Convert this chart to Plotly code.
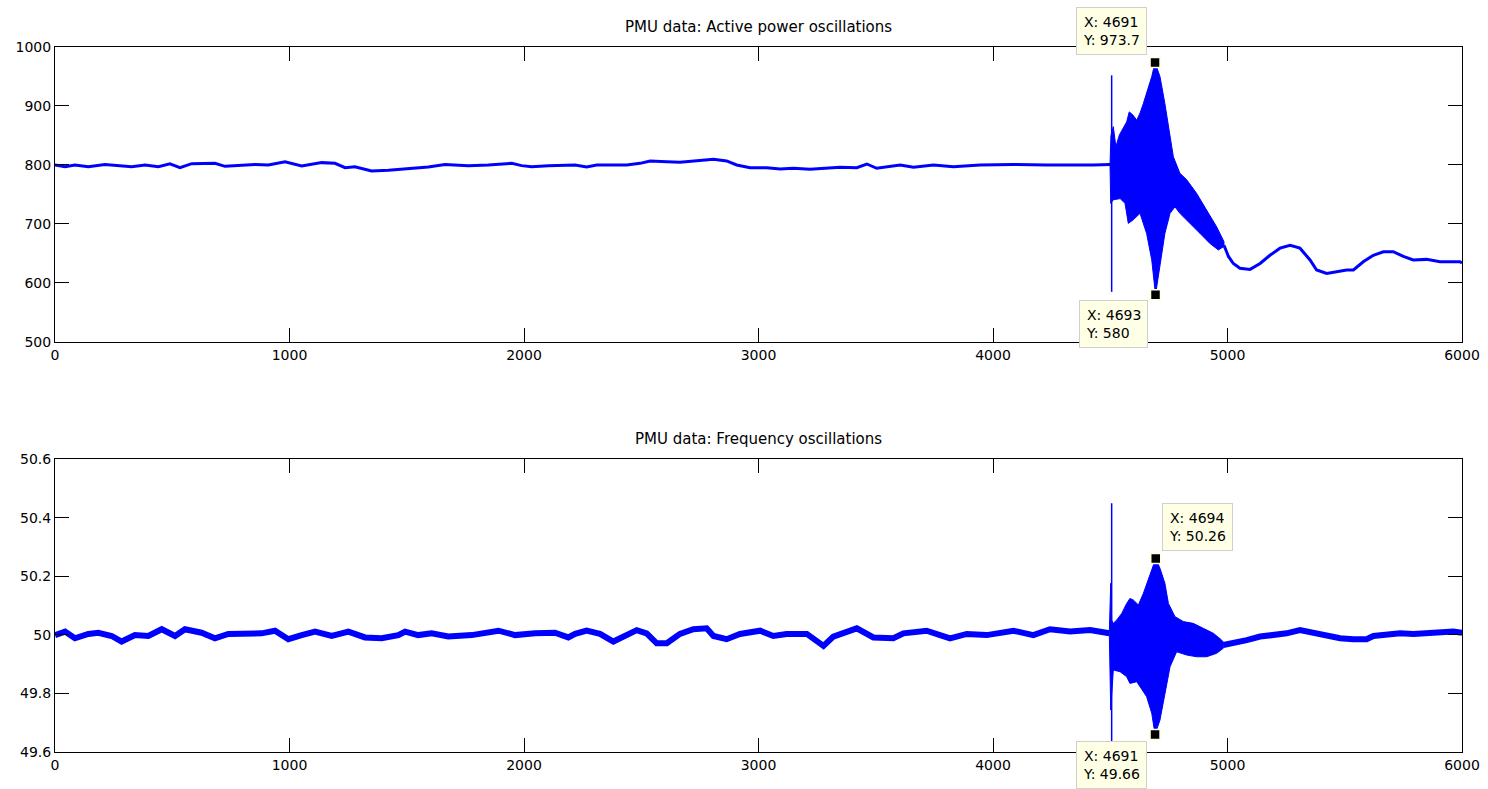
import plotly.graph_objects as go

# ---------------- Active power (top) ----------------
p_pre_x = [0, 43, 85, 142, 213, 327, 384, 441, 490, 533, 583, 682, 725, 796, 853, 910, 981, 1052, 1137, 1194,
           1237, 1279, 1350, 1422, 1478, 1535, 1592, 1663, 1763, 1848, 1948, 1990, 2033, 2104, 2218,
           2267, 2310, 2353, 2438, 2495, 2538, 2609, 2665, 2737, 2808, 2864, 2907, 2964, 3035, 3092,
           3149, 3220, 3291, 3348, 3419, 3462, 3504, 3561, 3604, 3661, 3746, 3831, 3945, 4087, 4229, 4428, 4499]
p_pre_y = [800, 797, 800, 797, 801, 797, 800, 797, 802, 795.5, 802.3, 802.8, 797.7, 800, 801, 800, 805.6, 798.3, 804, 802.8,
           795.5, 797, 789.8, 791, 792.7, 794.4, 796.6, 801, 798.9, 800, 802.8, 798.9, 797, 798.9, 800,
           796.6, 800, 800, 800, 802.8, 806.8, 805.6, 804.5, 807.3, 809.6, 806.8, 800, 795.5, 795.5, 793.2,
           794.4, 792.7, 794.4, 796, 795.5, 801.7, 794.4, 798.3, 800, 796, 800, 797, 800, 801, 800, 800, 801]

p_env_up_x = [4499, 4503, 4513, 4524, 4539, 4556, 4570, 4581, 4596, 4613, 4627, 4641, 4655, 4677, 4691, 4712, 4733,
              4748, 4769, 4797, 4826, 4868, 4911, 4954, 4985]
p_env_up = [801, 850, 865, 831, 851, 862, 873, 890, 885, 876, 888, 904, 921, 950, 973.7, 950, 904,
            865, 814, 786, 775, 752, 724, 695, 670]
p_env_lo_x = [4499, 4502, 4513, 4542, 4563, 4577, 4598, 4627, 4655, 4677, 4693, 4712, 4733, 4755, 4776, 4797,
              4840, 4883, 4925, 4961, 4985]
p_env_lo = [801, 735, 741, 743, 735, 701, 707, 718, 684, 639, 580, 628, 684, 718, 729, 718,
            701, 684, 667, 656, 662]

p_post_x = [4985, 5004, 5025, 5053, 5096, 5139, 5181, 5224, 5267, 5309, 5352, 5380, 5423, 5466, 5508, 5537,
            5579, 5622, 5665, 5707, 5750, 5792, 5849, 5906, 5991, 6000]
p_post_y = [664, 645, 633, 625, 623, 633, 647, 659, 664, 659, 639, 622, 616, 619, 622, 622,
            636, 647, 653, 653, 645, 639, 640, 636, 636, 634]

p_spike_x = [4506, 4506]
p_spike_y = [952, 585]

p_tip_x = [4691, 4693]
p_tip_y = [973.7, 580]

# ---------------- Frequency (bottom) ----------------
f_pre_x = [0, 43, 85, 142, 185, 242, 284, 341, 398, 455, 512, 554, 625, 682, 739, 824, 881, 938, 995, 1052,
           1109, 1180, 1251, 1322, 1393, 1464, 1493, 1549, 1606, 1677, 1777, 1891, 1962, 2047, 2132, 2189, 2218,
           2267, 2324, 2381, 2424, 2481, 2523, 2566, 2609, 2665, 2722, 2779, 2808, 2864, 2921, 3007, 3063,
           3120, 3206, 3277, 3319, 3376, 3419, 3490, 3575, 3618, 3717, 3774, 3817, 3888, 3973, 4087, 4172,
           4243, 4329, 4414, 4496]
f_pre_y = [49.999, 50.011, 49.988, 50.003, 50.007, 49.996, 49.977, 49.999, 49.996, 50.019, 49.996, 50.019, 50.007,
           49.988, 50.003, 50.007, 50.005, 50.014, 49.985, 49.999, 50.011, 49.996, 50.011, 49.991, 49.988, 49.999,
           50.011, 49.999, 50.005, 49.994, 49.999, 50.014, 49.999, 50.005, 50.007, 49.991, 50.003,
           50.014, 50.003, 49.977, 49.994, 50.016, 50.005, 49.971, 49.971, 50.003, 50.019, 50.022, 49.996,
           49.985, 50.003, 50.014, 49.996, 50.003, 50.003, 49.962, 49.994, 50.011, 50.022, 49.991, 49.988,
           50.005, 50.014, 49.999, 49.988, 50.003, 49.999, 50.014, 49.999, 50.019, 50.011, 50.016, 50.005]

f_env_up_x = [4496, 4502, 4506, 4513, 4527, 4549, 4570, 4584, 4598, 4620, 4641, 4662, 4677, 4694, 4712, 4733,
              4748, 4776, 4812, 4854, 4897, 4940, 4975, 4982]
f_env_up = [50.005, 50.176, 50.05, 50.039, 50.050, 50.073, 50.107, 50.124, 50.119, 50.102, 50.141, 50.187,
            50.227, 50.26, 50.227, 50.176, 50.107, 50.062, 50.045, 50.039, 50.022, 50.005, 49.982, 49.975]
f_env_lo_x = [4496, 4502, 4513, 4542, 4570, 4584, 4613, 4634, 4655, 4677, 4691, 4712, 4733, 4755, 4783, 4826,
              4869, 4911, 4954, 4982]
f_env_lo = [50.005, 49.743, 49.880, 49.874, 49.857, 49.834, 49.840, 49.817, 49.789, 49.732, 49.66, 49.709,
            49.800, 49.891, 49.942, 49.931, 49.925, 49.925, 49.937, 49.954]

f_post_x = [4982, 5025, 5082, 5139, 5195, 5252, 5309, 5366, 5423, 5480, 5537, 5593, 5622, 5679, 5736, 5793,
            5849, 5906, 5963, 6000]
f_post_y = [49.965, 49.971, 49.982, 49.994, 49.999, 50.005, 50.016, 50.007, 49.994, 49.988, 49.985, 49.985,
            49.996, 50.003, 50.005, 50.003, 50.005, 50.005, 50.011, 50.007]

f_spike_x = [4506, 4506]
f_spike_y = [50.449, 49.6]

f_tip_x = [4694, 4691]
f_tip_y = [50.26, 49.66]

titles = ["PMU data: Active power oscillations", "PMU data: Frequency oscillations"]
x_ticks = [0, 1000, 2000, 3000, 4000, 5000, 6000]
p_ticks = [500, 600, 700, 800, 900, 1000]
f_ticks = [49.6, 49.8, 50.0, 50.2, 50.4, 50.6]
f_tick_text = ["49.6", "49.8", "50", "50.2", "50.4", "50.6"]

BLUE = "#0000FF"
FONT = "DejaVu Sans"

fig = go.Figure()


def add_signal(pre_x, pre_y, up_x, up, lo_x, lo, post_x, post_y, sp_x, sp_y, xa, ya, w):
    fig.add_trace(go.Scatter(x=pre_x, y=pre_y, mode="lines", line=dict(color=BLUE, width=w),
                             xaxis=xa, yaxis=ya, hoverinfo="skip"))
    fig.add_trace(go.Scatter(x=up_x + lo_x[::-1], y=up + lo[::-1], mode="lines", fill="toself",
                             fillcolor=BLUE, line=dict(color=BLUE, width=1),
                             xaxis=xa, yaxis=ya, hoverinfo="skip"))
    fig.add_trace(go.Scatter(x=post_x, y=post_y, mode="lines", line=dict(color=BLUE, width=w),
                             xaxis=xa, yaxis=ya, hoverinfo="skip"))
    fig.add_trace(go.Scatter(x=sp_x, y=sp_y, mode="lines", line=dict(color=BLUE, width=1.5),
                             xaxis=xa, yaxis=ya, hoverinfo="skip"))


add_signal(p_pre_x, p_pre_y, p_env_up_x, p_env_up, p_env_lo_x, p_env_lo, p_post_x, p_post_y,
           p_spike_x, p_spike_y, "x", "y", 3)
add_signal(f_pre_x, f_pre_y, f_env_up_x, f_env_up, f_env_lo_x, f_env_lo, f_post_x, f_post_y,
           f_spike_x, f_spike_y, "x2", "y2", 6)

for tx, ty, xa, ya in [(p_tip_x, p_tip_y, "x", "y"), (f_tip_x, f_tip_y, "x2", "y2")]:
    fig.add_trace(go.Scatter(x=tx, y=ty, mode="markers", xaxis=xa, yaxis=ya, cliponaxis=False,
                             marker=dict(symbol="square", size=10, color="black",
                                         line=dict(color="#FFFFE1", width=1.5)),
                             hoverinfo="skip"))

axis_common = dict(showline=True, linecolor="black", linewidth=1, mirror="allticks",
                   ticks="inside", ticklen=14, tickcolor="black", showgrid=False, zeroline=False,
                   automargin=False,
                   tickfont=dict(family=FONT, size=14, color="black"))

fig.update_layout(
    width=1488, height=789,
    margin=dict(l=55, r=26, t=47, b=37, autoexpand=False),
    paper_bgcolor="white", plot_bgcolor="white",
    showlegend=False,
    xaxis=dict(domain=[0, 1], anchor="y", range=[0, 6000], tickvals=x_ticks, **axis_common),
    yaxis=dict(domain=[0.5816, 1], anchor="x", range=[500, 1000], tickvals=p_ticks, **axis_common),
    xaxis2=dict(domain=[0, 1], anchor="y2", range=[0, 6000], tickvals=x_ticks, **axis_common),
    yaxis2=dict(domain=[0, 0.4156], anchor="x2", range=[49.6, 50.6], tickvals=f_ticks,
                ticktext=f_tick_text, **axis_common),
)

annotations = []
for title, yref in zip(titles, ["y domain", "y2 domain"]):
    annotations.append(dict(text=title, xref="paper", x=0.5, yref=yref, y=1, xanchor="center",
                            yanchor="bottom", yshift=9, showarrow=False,
                            font=dict(family=FONT, size=15, color="black")))

tip_specs = [
    ("x", "y", p_tip_x[0], p_tip_y[0], "right", "bottom", -8, 8),
    ("x", "y", p_tip_x[1], p_tip_y[1], "right", "top", -8, -5),
    ("x2", "y2", f_tip_x[0], f_tip_y[0], "left", "bottom", 6, 8),
    ("x2", "y2", f_tip_x[1], f_tip_y[1], "right", "top", -8, -7),
]
for xr, yr, tx, ty, xa, ya, xs, ys in tip_specs:
    yfmt = f"{ty:g}"
    annotations.append(dict(text=f"X: {tx}<br>Y: {yfmt}", xref=xr, yref=yr, x=tx, y=ty,
                            xanchor=xa, yanchor=ya, xshift=xs, yshift=ys, showarrow=False,
                            align="left", bgcolor="#FFFFE6", bordercolor="#D0D0D0", borderwidth=1,
                            borderpad=6, font=dict(family=FONT, size=14, color="black")))
fig.update_layout(annotations=annotations)

fig.write_html("out.html")
